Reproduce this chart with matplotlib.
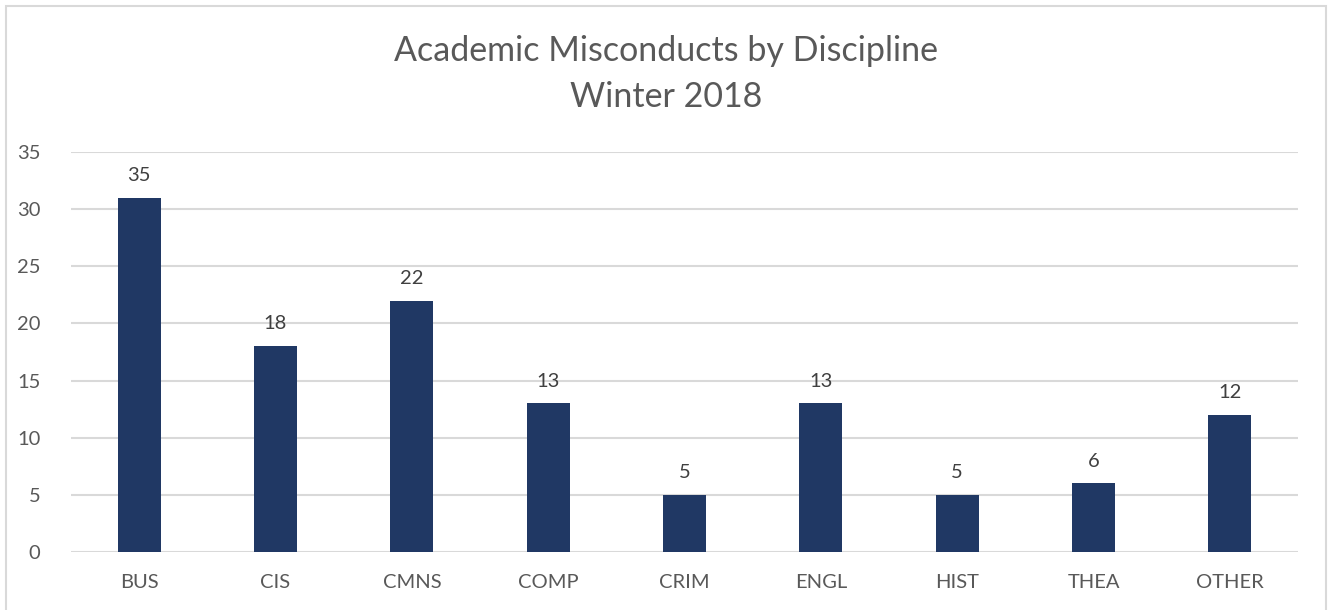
import matplotlib
matplotlib.use("Agg")
import matplotlib.pyplot as plt
from matplotlib.patches import Rectangle

# chart data
disciplines = ["BUS", "CIS", "CMNS", "COMP", "CRIM", "ENGL", "HIST", "THEA", "OTHER"]
counts = [31, 18, 22, 13, 5, 13, 5, 6, 12]
count_labels = ["35", "18", "22", "13", "5", "13", "5", "6", "12"]
y_ticks = [0, 5, 10, 15, 20, 25, 30, 35]

plt.rcParams["font.family"] = ["Lato", "DejaVu Sans"]
text_color = "#595959"
bar_color = "#203864"
grid_color = "#d9d9d9"

fig = plt.figure(figsize=(13.33, 6.10), dpi=100)
ax = fig.add_axes([71 / 1333, 1 - 552 / 610, (1298 - 71) / 1333, (552 - 152) / 610])

# outer chart border
fig.patches.append(Rectangle((6 / 1333, -0.05), (1326 - 6) / 1333, 1.05 - 6 / 610,
                             transform=fig.transFigure, fill=False,
                             edgecolor=grid_color, linewidth=1.5))

x = range(len(disciplines))
ax.bar(x, counts, width=0.315, color=bar_color, zorder=3)

for i, (v, lab) in enumerate(zip(counts, count_labels)):
    ax.annotate(lab, (i, v), xytext=(0, 10), textcoords="offset points",
                ha="center", va="bottom", fontsize=14.5, color="#404040")

ax.set_xlim(-0.5, len(disciplines) - 0.5)
ax.set_ylim(0, 35)
ax.set_yticks(y_ticks)
ax.set_xticks(list(x))
ax.set_xticklabels(disciplines)
ax.yaxis.grid(True, color=grid_color, linewidth=1.5, zorder=0)
ax.set_axisbelow(True)
for s in ax.spines.values():
    s.set_visible(False)
ax.tick_params(axis="both", length=0, labelsize=14.5, labelcolor=text_color)
ax.tick_params(axis="y", pad=22)
ax.tick_params(axis="x", pad=16)

fig.text(0.5, 1 - 74 / 610, "Academic Misconducts by Discipline\nWinter 2018",
         ha="center", va="center", fontsize=24.5, color=text_color, linespacing=1.55)

fig.savefig("out.png", dpi=100)
